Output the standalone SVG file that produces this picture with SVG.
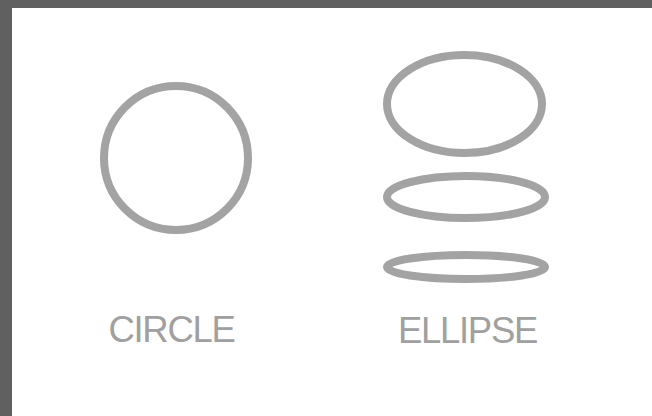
<svg xmlns="http://www.w3.org/2000/svg" width="652" height="416" viewBox="0 0 652 416">
<style>
.shape{fill:none;stroke:#a3a3a3;stroke-width:8}
.lbl{font-family:"Liberation Sans",Arial,sans-serif;font-size:36.5px;letter-spacing:-1.3px;fill:#a0a0a0;text-anchor:middle}
</style>
<rect x="0" y="0" width="652" height="416" fill="#ffffff"/>
<rect x="0" y="0" width="652" height="8" fill="#606060"/>
<rect x="0" y="0" width="12" height="416" fill="#606060"/>
<g id="circle">
<circle class="shape" cx="176" cy="158" r="72"/>
<text class="lbl" x="171.5" y="342">CIRCLE</text>
</g>
<g id="ellipse1"><ellipse class="shape" cx="464.5" cy="104" rx="77.5" ry="49"/></g>
<g id="ellipse2"><ellipse class="shape" cx="466" cy="197" rx="79" ry="21"/></g>
<g id="ellipse3"><ellipse class="shape" cx="466" cy="267" rx="79" ry="12"/></g>
<g id="ellipse-label"><text class="lbl" x="467.5" y="342.5">ELLIPSE</text></g>
</svg>
